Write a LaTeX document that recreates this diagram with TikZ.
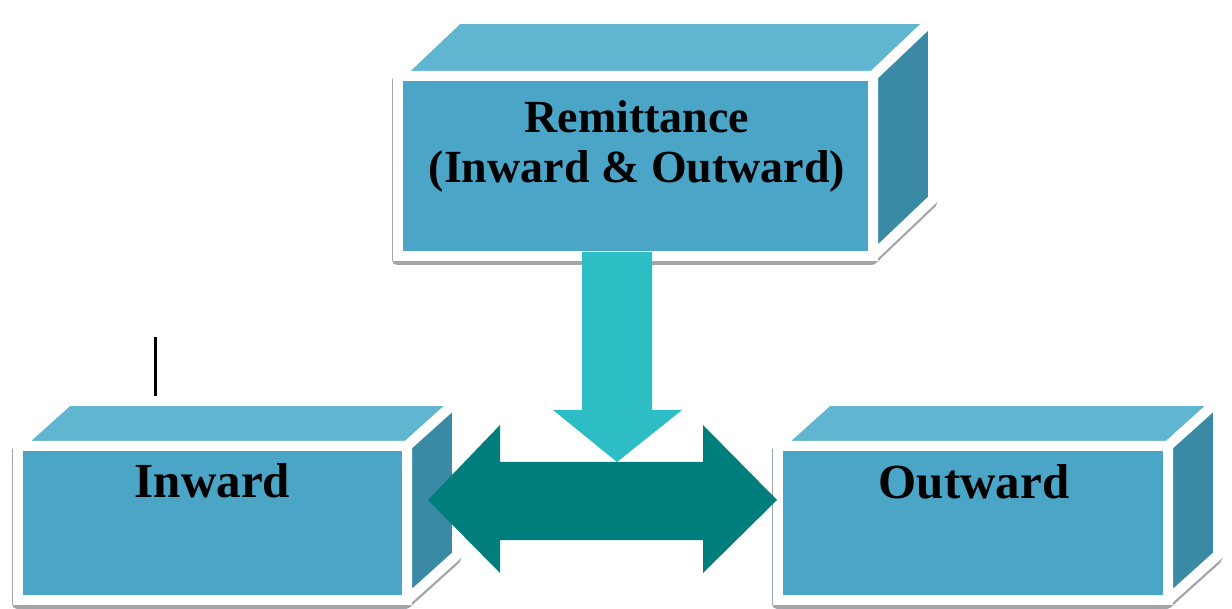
\documentclass[tikz,border=0pt]{standalone}
\usepackage{fontspec}
\setmainfont{Liberation Serif}
\usetikzlibrary{calc,backgrounds}

\definecolor{facefront}{RGB}{74,165,198}
\definecolor{facetop}{RGB}{96,181,208}
\definecolor{faceside}{RGB}{58,138,166}
\definecolor{boxshadow}{RGB}{160,166,170}
\definecolor{arrowlight}{RGB}{44,190,196}
\definecolor{arrowdark}{RGB}{0,126,126}

\tikzset{
  frontface/.style={draw=white, line width=10pt, fill=facefront, inner sep=0pt, outer sep=0pt},
  topface/.style={draw=white, line width=10pt, fill=facetop, line join=round},
  sideface/.style={draw=white, line width=10pt, fill=faceside, line join=round},
  boxtext/.style={font=\bfseries\fontsize{49}{52}\selectfont, text=black, align=center},
}

\begin{document}
\begin{tikzpicture}[x=1pt,y=-1pt]
    \useasboundingbox (0,0) rectangle (1232,609);
    \begin{pgfonlayer}{background}
      \fill[white] (0,0) rectangle (1232,609);
    \end{pgfonlayer}

    % front faces
    \node[frontface, minimum width=389pt, minimum height=154pt] (inward) at (212.5,523) {};
    \node[frontface, minimum width=390pt, minimum height=154pt] (outward) at (973,523) {};
    \node[frontface, minimum width=475pt, minimum height=180pt] (remit) at (635.5,166) {};

    % top and side faces, shadow below
    \foreach \b/\dx/\dy in {inward/50/-45, outward/50/-45, remit/60/-57}{
      \begin{pgfonlayer}{background}
        \fill[boxshadow, draw=boxshadow, line width=10pt, line join=round,
              transform canvas={xshift=-1pt, yshift=-4pt}]
          (\b.south west) -- (\b.north west) -- ++(\dx,\dy)
          -- ($(\b.north east)+(\dx,\dy)$) -- ($(\b.south east)+(\dx,\dy)$)
          -- (\b.south east) -- cycle;
      \end{pgfonlayer}
      \draw[topface] (\b.north west) -- ++(\dx,\dy) -- ($(\b.north east)+(\dx,\dy)$) -- (\b.north east) -- cycle;
      \draw[sideface] (\b.north east) -- ++(\dx,\dy) -- ($(\b.south east)+(\dx,\dy)$) -- (\b.south east) -- cycle;
    }

    % labels
    \node[boxtext, font=\bfseries\fontsize{46}{50}\selectfont] (remittext) at ($(remit.north)+(1.5,70)$) {Remittance\\(Inward \& Outward)};
    \node[boxtext, anchor=base] (inwardtext) at ($(inward.north)+(0,51)$) {Inward};
    \node[boxtext, anchor=base] (outwardtext) at ($(outward.north)+(1,52)$) {Outward};

    \coordinate (tick) at (155,337);
    \draw[line width=3pt] (tick) -- ++(0,59);

    % block arrows
    \coordinate (dtop) at (617,252);
    \coordinate (dtip) at (617,462);
    \fill[arrowlight] ($(dtop)+(-35,0)$) -- ++(70,0) -- ++(0,158) -- ++(30,0)
      -- (dtip) -- ++(-64,-52) -- ++(29,0) -- cycle;

    \coordinate (ltip) at (428,500);
    \coordinate (rtip) at (777,500);
    \fill[arrowdark] (ltip) -- ++(72,-75) -- ++(0,37) -- ++(203,0) -- ++(0,-37)
      -- (rtip) -- ++(-74,73) -- ++(0,-33) -- ++(-203,0) -- ++(0,33) -- cycle;

\end{tikzpicture}
\end{document}
